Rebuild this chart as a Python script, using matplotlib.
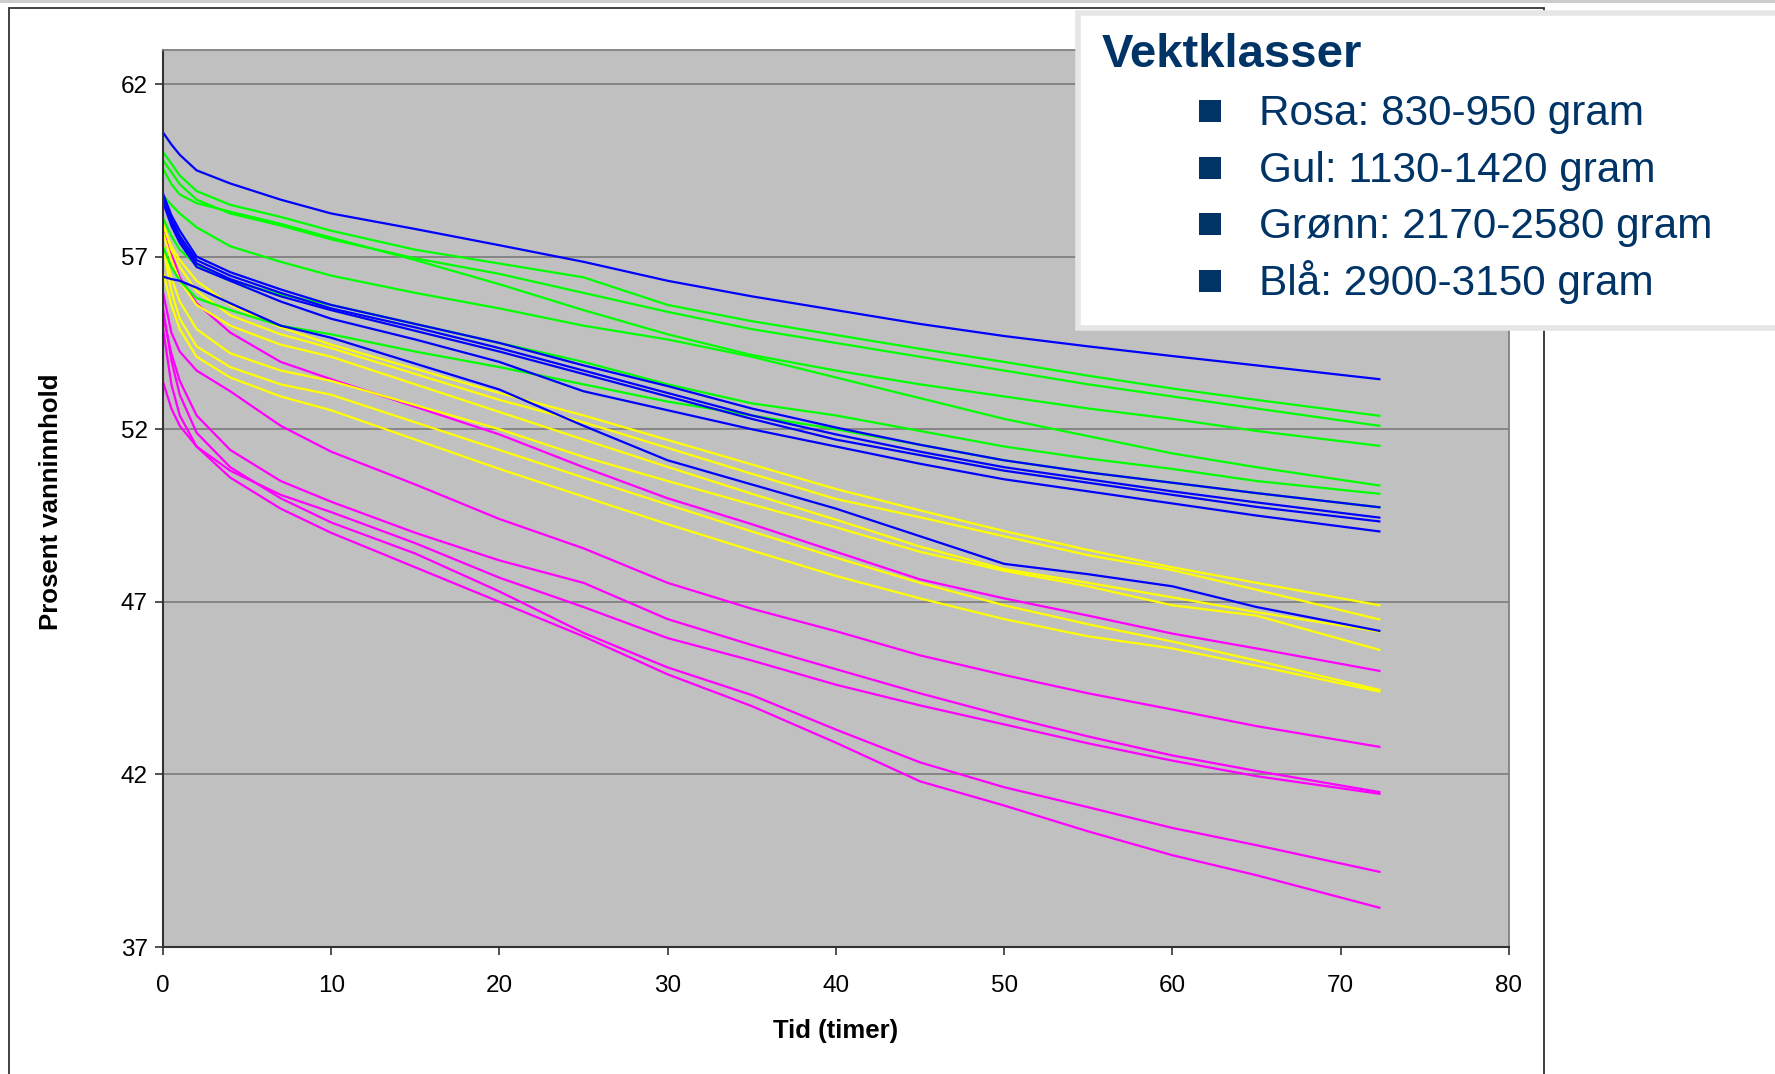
import matplotlib.pyplot as plt
import matplotlib.patches as patches

plt.rcParams['font.family'] = ['Liberation Sans', 'DejaVu Sans']

# tid i timer (felles for alle kurver)
timer = [0, 0.5, 1, 2, 4, 7, 10, 15, 20, 25, 30, 35, 40, 45, 50, 55, 60, 65, 72.3]

# prosent vanninnhold, en liste per fisk
rosa = [
    [57.9, 57.1, 56.4, 55.65, 54.8, 53.95, 53.45, 52.65, 51.85, 50.9, 50.0, 49.25, 48.45, 47.65, 47.1, 46.6, 46.08, 45.65, 45.0],
    [55.98, 54.8, 54.25, 53.7, 53.1, 52.1, 51.35, 50.4, 49.4, 48.55, 47.55, 46.8, 46.15, 45.45, 44.88, 44.35, 43.88, 43.4, 42.8],
    [55.3, 54.2, 53.4, 52.4, 51.4, 50.5, 49.9, 49.0, 48.2, 47.55, 46.5, 45.75, 45.05, 44.35, 43.7, 43.1, 42.55, 42.1, 41.49],
    [53.38, 52.6, 52.1, 51.5, 50.8, 50.1, 49.6, 48.7, 47.7, 46.85, 45.95, 45.3, 44.6, 44.0, 43.45, 42.9, 42.4, 41.95, 41.44],
    [55.5, 54.0, 53.0, 51.9, 50.9, 50.0, 49.3, 48.4, 47.3, 46.1, 45.1, 44.3, 43.3, 42.35, 41.63, 41.05, 40.45, 39.95, 39.18],
    [54.92, 53.3, 52.4, 51.5, 50.6, 49.7, 49.0, 48.0, 47.0, 46.0, 44.9, 43.98, 42.92, 41.8, 41.1, 40.35, 39.66, 39.08, 38.14],
]
gul = [
    [57.9, 57.3, 56.9, 56.3, 55.6, 54.95, 54.45, 53.75, 53.05, 52.4, 51.69, 50.98, 50.27, 49.65, 49.05, 48.5, 48.0, 47.55, 46.9],
    [58.0, 57.2, 56.7, 56.0, 55.3, 54.75, 54.35, 53.6, 52.85, 52.2, 51.46, 50.71, 49.98, 49.45, 48.9, 48.35, 47.92, 47.35, 46.49],
    [57.7, 56.9, 56.3, 55.6, 55.0, 54.45, 54.1, 53.3, 52.5, 51.7, 50.91, 50.13, 49.38, 48.6, 47.95, 47.55, 47.13, 46.7, 46.14],
    [57.3, 56.4, 55.7, 54.9, 54.2, 53.7, 53.4, 52.7, 52.0, 51.2, 50.5, 49.82, 49.16, 48.45, 47.9, 47.45, 46.9, 46.6, 45.61],
    [57.3, 56.0, 55.2, 54.4, 53.8, 53.3, 53.0, 52.2, 51.4, 50.6, 49.82, 49.04, 48.28, 47.55, 46.9, 46.35, 45.85, 45.3, 44.45],
    [56.56, 55.6, 54.9, 54.1, 53.5, 52.95, 52.55, 51.7, 50.85, 50.05, 49.25, 48.49, 47.75, 47.1, 46.5, 46.0, 45.65, 45.15, 44.4],
]
gronn = [
    [60.03, 59.7, 59.35, 58.9, 58.5, 58.15, 57.75, 57.2, 56.8, 56.4, 55.6, 55.13, 54.73, 54.33, 53.95, 53.55, 53.18, 52.85, 52.39],
    [59.79, 59.45, 59.1, 58.65, 58.25, 57.9, 57.5, 56.95, 56.5, 55.95, 55.4, 54.9, 54.5, 54.1, 53.7, 53.3, 52.95, 52.6, 52.1],
    [59.55, 59.1, 58.8, 58.55, 58.3, 57.95, 57.55, 56.9, 56.2, 55.45, 54.75, 54.15, 53.7, 53.3, 52.95, 52.6, 52.3, 51.95, 51.52],
    [58.78, 58.5, 58.25, 57.85, 57.3, 56.85, 56.45, 55.95, 55.5, 55.0, 54.6, 54.1, 53.5, 52.9, 52.3, 51.8, 51.3, 50.9, 50.37],
    [58.11, 57.6, 57.2, 56.75, 56.3, 55.9, 55.6, 55.05, 54.5, 53.95, 53.3, 52.75, 52.4, 51.95, 51.5, 51.15, 50.85, 50.5, 50.13],
    [57.28, 56.7, 56.3, 55.8, 55.45, 55.0, 54.75, 54.25, 53.8, 53.3, 52.8, 52.4, 52.0, 51.55, 51.1, 50.75, 50.45, 50.15, 49.74],
]
bla = [
    [60.6, 60.25, 59.95, 59.5, 59.12, 58.65, 58.25, 57.8, 57.33, 56.85, 56.3, 55.85, 55.45, 55.05, 54.7, 54.4, 54.12, 53.85, 53.45],
    [58.83, 58.2, 57.75, 57.0, 56.55, 56.05, 55.6, 55.05, 54.5, 53.85, 53.25, 52.6, 52.05, 51.55, 51.1, 50.75, 50.45, 50.15, 49.74],
    [58.78, 58.1, 57.6, 56.9, 56.45, 55.95, 55.5, 54.95, 54.35, 53.7, 53.05, 52.4, 51.85, 51.35, 50.9, 50.55, 50.2, 49.88, 49.44],
    [58.69, 58.0, 57.5, 56.8, 56.35, 55.85, 55.45, 54.85, 54.25, 53.6, 52.95, 52.3, 51.7, 51.25, 50.8, 50.45, 50.1, 49.75, 49.33],
    [58.59, 57.9, 57.4, 56.7, 56.3, 55.7, 55.2, 54.6, 53.95, 53.1, 52.55, 52.0, 51.5, 51.0, 50.55, 50.2, 49.85, 49.5, 49.04],
    [56.42, 56.35, 56.3, 56.1, 55.65, 55.0, 54.65, 53.9, 53.15, 52.1, 51.1, 50.4, 49.7, 48.9, 48.1, 47.8, 47.45, 46.85, 46.16],
]

klasser = ['Rosa: 830-950 gram', 'Gul: 1130-1420 gram',
           'Grønn: 2170-2580 gram', 'Blå: 2900-3150 gram']

navy = '#003366'

fig = plt.figure(figsize=(17.75, 10.74), dpi=100)

ax = fig.add_axes([0.0918, 0.1182, 0.7583, 0.8357])
ax.set_facecolor('#c0c0c0')

for serie, farge in [(rosa, '#ff00ff'), (gul, '#ffff00'),
                     (gronn, '#00ff00'), (bla, '#0000ff')]:
    for verdier in serie:
        ax.plot(timer, verdier, color=farge, lw=1.6)

ax.set_xlim(0, 80)
ax.set_ylim(37, 63)
ax.set_xticks(range(0, 81, 10))
ax.set_yticks(range(37, 63, 5))
ax.yaxis.grid(True, color='#808080', lw=1.3)
ax.set_axisbelow(True)

for side in ['left', 'bottom']:
    ax.spines[side].set_color('#333333')
    ax.spines[side].set_linewidth(1.5)
for side in ['top', 'right']:
    ax.spines[side].set_color('#808080')
    ax.spines[side].set_linewidth(1.3)

ax.tick_params(direction='out', length=5.8, width=1.2, color='#333333',
               labelcolor='black', labelsize=17.5)
ax.tick_params(axis='x', pad=14)
ax.tick_params(axis='y', pad=5)

fig.text(0.0287, 0.533, 'Prosent vanninnhold', rotation=90, fontsize=18.5,
         fontweight='bold', ha='center', va='center')
fig.text(0.4708, 0.040, 'Tid (timer)', fontsize=18.5, fontweight='bold',
         ha='center', va='center')

# ramme rundt diagrammet og stripe øverst
fig.add_artist(patches.Rectangle((0, 0.9972), 1, 0.0028, transform=fig.transFigure,
                                 facecolor='#cccccc', lw=0, zorder=4))
fig.add_artist(patches.Rectangle((0.0048, -0.05), 0.8651, 0.993 + 0.05,
                                 transform=fig.transFigure, fill=False,
                                 edgecolor='#333333', lw=1.3, zorder=5))

# tekstboks med vektklasser
fig.add_artist(patches.Rectangle((0.6076, 0.6946), 0.5, 0.2933, transform=fig.transFigure,
                                 facecolor='white', edgecolor='#e6e6e6', lw=4, zorder=10))
fig.text(0.6208, 0.9379, 'Vektklasser', fontsize=34, fontweight='bold', color=navy,
         ha='left', va='baseline', zorder=11)

grunnlinjer = [0.8836, 0.8308, 0.7781, 0.7253]
for tekst, y in zip(klasser, grunnlinjer):
    fig.add_artist(patches.Rectangle((0.6817 - 0.0062, y + 0.013 - 0.0102), 0.0124, 0.0205,
                                     transform=fig.transFigure, facecolor=navy,
                                     lw=0, zorder=11))
    fig.text(0.7091, y, tekst, fontsize=30.4, color=navy, ha='left',
             va='baseline', zorder=11)

fig.savefig('out.png', dpi=100)
